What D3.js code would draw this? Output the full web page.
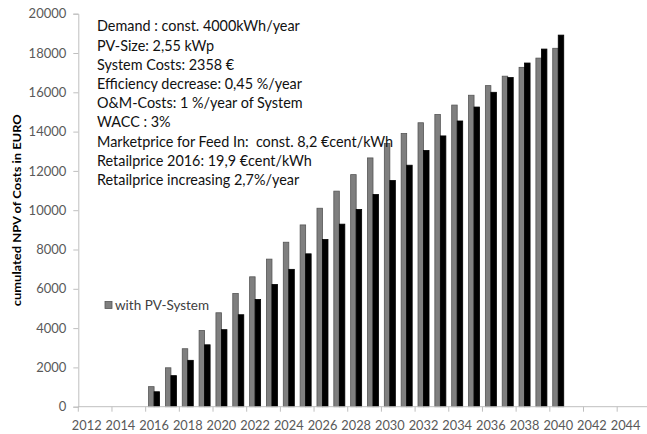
<!DOCTYPE html>
<html>
<head>
<meta charset="utf-8">
<script src="https://cdn.jsdelivr.net/npm/d3@7"></script>
<style>
  html, body { margin: 0; padding: 0; background: #fff; }
  svg { display: block; font-family: Lato, "Open Sans", sans-serif; }
</style>
</head>
<body>
<svg id="chart" width="647" height="434"></svg>
<script>
// Category axis: one slot per year, labelled every second year
const years = d3.range(2012, 2046);
const tickYears = d3.range(2012, 2046, 2);
const yTicks = d3.range(0, 20001, 2000);

// Years that carry bars
const barYears = d3.range(2016, 2041);

// Cumulated NPV of costs (EURO)
const withPV = [1020, 1980, 2950, 3880, 4780, 5760, 6610, 7510, 8370, 9250,
  10100, 10970, 11810, 12660, 13400, 13900, 14450, 14870, 15350, 15850,
  16340, 16820, 17270, 17740, 18240];
const withoutPV = [760, 1580, 2360, 3150, 3920, 4680, 5460, 6220, 6990, 7780,
  8510, 9290, 10040, 10800, 11510, 12290, 13040, 13780, 14540, 15250,
  16000, 16750, 17490, 18200, 18910];

const seriesNames = ["with PV-System", "without PV-System"];
const seriesValues = [withPV, withoutPV];

// Assumptions listed inside the plot
const notes = [
  "Demand : const. 4000kWh/year",
  "PV-Size: 2,55 kWp",
  "System Costs: 2358 €",
  "Efficiency decrease: 0,45 %/year",
  "O&M-Costs: 1 %/year of System",
  "WACC : 3%",
  "Marketprice for Feed In:  const. 8,2 €cent/kWh",
  "Retailprice 2016: 19,9 €cent/kWh",
  "Retailprice increasing 2,7%/year"
];

const svg = d3.select("#chart");
const plotLeft = 78.3, plotTop = 13.7, plotBottom = 406.7;
const step = 16.84;

const x = d3.scaleBand().domain(years).range([plotLeft, plotLeft + years.length * step]).padding(0);
const xs = d3.scaleBand().domain(seriesNames).range([0, x.bandwidth()]).paddingInner(0).paddingOuter(0.53);
const y = d3.scaleLinear().domain([0, 20000]).range([plotBottom, plotTop]);

const axisColor = "#bfbfbf";
const labelColor = "#595959";

// Y axis
const yAxis = svg.append("g").attr("transform", `translate(${plotLeft},0)`)
  .call(d3.axisLeft(y).tickValues(yTicks).tickSize(5).tickPadding(7).tickFormat(d3.format("d")));
yAxis.select(".domain").attr("stroke", axisColor);
yAxis.selectAll(".tick line").attr("stroke", axisColor);
yAxis.selectAll("text").attr("fill", labelColor).attr("font-size", 13)
  .attr("font-family", "Lato, sans-serif");

// Bars
const data = [];
barYears.forEach((yr, i) => {
  seriesNames.forEach((s, j) => data.push({ year: yr, series: s, value: seriesValues[j][i] }));
});
const fills = { "with PV-System": "#7f7f7f", "without PV-System": "#000" };
const strokes = { "with PV-System": "#555", "without PV-System": "#000" };

svg.append("g").selectAll("rect").data(data).join("rect")
  .attr("x", d => x(d.year) + xs(d.series))
  .attr("width", xs.bandwidth())
  .attr("y", d => y(d.value))
  .attr("height", d => y(0) - y(d.value))
  .attr("fill", d => fills[d.series])
  .attr("stroke", d => strokes[d.series])
  .attr("stroke-width", 0.8);

// X axis: ticks at slot boundaries every second year, labels centred on the year slot
const xAxis = svg.append("g").attr("transform", `translate(0,${plotBottom})`);
xAxis.append("line")
  .attr("x1", plotLeft).attr("x2", 647)
  .attr("stroke", axisColor);
xAxis.selectAll("line.tk").data(tickYears).join("line").attr("class", "tk")
  .attr("x1", d => x(d)).attr("x2", d => x(d))
  .attr("y1", 0).attr("y2", 5)
  .attr("stroke", axisColor);
xAxis.selectAll("text").data(tickYears).join("text")
  .attr("x", d => x(d) + x.bandwidth() / 2)
  .attr("y", 23)
  .attr("text-anchor", "middle")
  .attr("fill", labelColor)
  .attr("font-size", 12.8)
  .text(d => d);

// Y axis title
svg.append("text")
  .attr("transform", `translate(21,${(plotTop + plotBottom) / 2}) rotate(-90)`)
  .attr("text-anchor", "middle")
  .attr("font-size", 11.5)
  .attr("font-weight", "bold")
  .attr("fill", "#000")
  .attr("textLength", 192)
  .attr("lengthAdjust", "spacingAndGlyphs")
  .text("cumulated NPV of Costs in EURO");

// Assumption notes
svg.append("g").selectAll("text").data(notes).join("text")
  .attr("x", 97)
  .attr("y", (d, i) => 31.3 + i * 19.2)
  .attr("font-size", 14.4)
  .attr("fill", "#111")
  .style("white-space", "pre")
  .text(d => d);

// Legend
const lg = svg.append("g").attr("transform", "translate(105,301.5)");
lg.append("rect").attr("width", 7).attr("height", 7)
  .attr("fill", fills[seriesNames[0]]).attr("stroke", strokes[seriesNames[0]]).attr("stroke-width", 0.8);
lg.append("text").attr("x", 10).attr("y", 8.5).attr("font-size", 13.5)
  .attr("fill", "#404040").text(seriesNames[0]);
</script>
</body>
</html>
